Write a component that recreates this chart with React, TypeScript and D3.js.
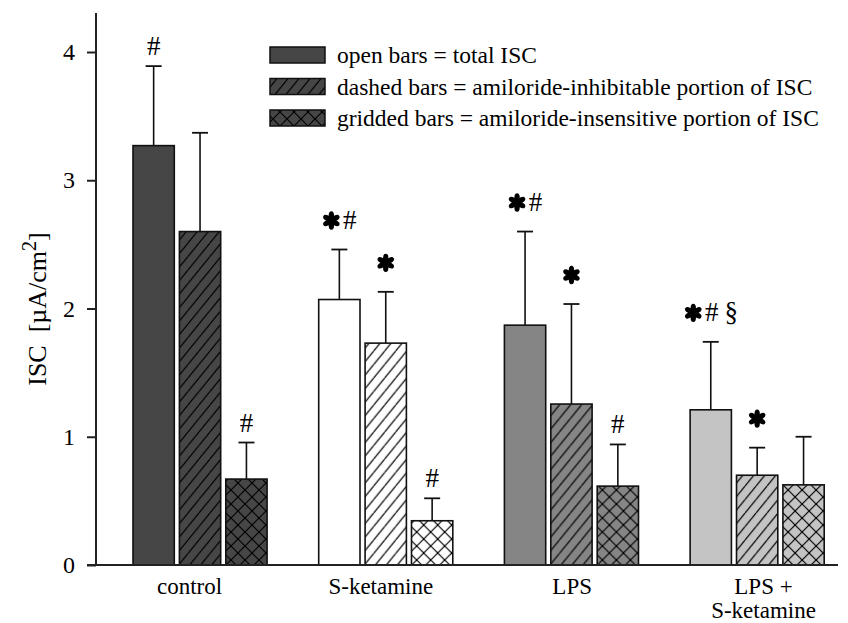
import React, { useEffect, useRef } from "react";
import * as d3 from "d3";

const groups = ["control", "S-ketamine", "LPS", "LPS + S-ketamine"];
const groupLabels = [["control"], ["S-ketamine"], ["LPS"], ["LPS +", "S-ketamine"]];
const seriesKeys = ["total", "inhib", "insens"];
const totalISC = [3.27, 2.07, 1.87, 1.21];
const totalErr = [0.62, 0.39, 0.73, 0.53];
const inhibISC = [2.6, 1.73, 1.255, 0.7];
const inhibErr = [0.77, 0.4, 0.78, 0.215];
const insensISC = [0.67, 0.345, 0.615, 0.625];
const insensErr = [0.285, 0.175, 0.325, 0.375];
const totalMarks = ["#", "*#", "*#", "*#§"];
const inhibMarks = ["", "*", "*", "*"];
const insensMarks = ["#", "#", "#", ""];
const groupColors = ["#464646", "#ffffff", "#858585", "#c4c4c4"];
const yTicks = [0, 1, 2, 3, 4];
const legendLabels = [
  "open bars = total ISC",
  "dashed bars = amiloride-inhibitable portion of ISC",
  "gridded bars = amiloride-insensitive portion of ISC",
];

const FONT = "'Liberation Serif', 'Times New Roman', serif";

function Asterisk({ cx, cy }: { cx: number; cy: number }) {
  const petals = [0, 60, 120, 180, 240, 300];
  return (
    <g transform={`translate(${cx},${cy})`}>
      {petals.map((a) => (
        <ellipse key={a} cx={0} cy={-4.7} rx={2.7} ry={4.5} transform={`rotate(${a})`} fill="#000" />
      ))}
      <circle r={1.7} fill="#000" />
    </g>
  );
}

function Marks({ text, cx, errTop }: { text: string; cx: number; errTop: number }) {
  if (!text) return null;
  const chars = Array.from(text);
  const hasAst = chars.includes("*");
  const base = errTop - (hasAst ? 21 : 11);
  const widths: Record<string, number> = { "*": 18, "#": 13, "§": 12 };
  const gapAfter: Record<string, number> = { "*": 3, "#": 7, "§": 0 };
  let total = 0;
  chars.forEach((c, i) => {
    total += widths[c];
    if (i < chars.length - 1) total += gapAfter[c];
  });
  let x = cx - total / 2;
  const items: any[] = [];
  chars.forEach((c, i) => {
    const w = widths[c];
    if (c === "*") {
      items.push(<Asterisk key={i} cx={x + w / 2} cy={base - 8} />);
    } else {
      items.push(
        <text key={i} x={x + w / 2} y={base} textAnchor="middle" fontFamily={FONT} fontSize={27} fill="#000">
          {c}
        </text>
      );
    }
    x += w + gapAfter[c];
  });
  return <g>{items}</g>;
}

export default function App() {
  const yAxisRef = useRef<SVGGElement>(null);

  const y = d3.scaleLinear().domain([0, 4]).range([565, 52]);
  const x0 = d3.scaleBand().domain(groups).range([133, 824.2]).paddingInner(0.278).paddingOuter(0);
  const x1 = d3.scaleBand().domain(seriesKeys).range([0, x0.bandwidth()]).paddingInner(0.11);
  const xLabel = d3.scalePoint().domain(groups).range([189.5, 763.5]);

  useEffect(() => {
    if (!yAxisRef.current) return;
    const g = d3.select(yAxisRef.current);
    g.selectAll("*").remove();
    g.call(d3.axisLeft(y).tickValues(yTicks).tickSize(9).tickPadding(12).tickFormat(d3.format("d")));
    g.select(".domain").remove();
    g.selectAll(".tick line").attr("stroke", "#222").attr("stroke-width", 2);
    g.selectAll(".tick text")
      .attr("font-family", FONT)
      .attr("font-size", 24)
      .attr("fill", "#000");
  }, []);

  const series = [
    { key: "total", vals: totalISC, errs: totalErr, marks: totalMarks, pat: "solid" },
    { key: "inhib", vals: inhibISC, errs: inhibErr, marks: inhibMarks, pat: "hatch" },
    { key: "insens", vals: insensISC, errs: insensErr, marks: insensMarks, pat: "cross" },
  ];

  const fillFor = (pat: string, gi: number) =>
    pat === "solid" ? groupColors[gi] : `url(#${pat}-${gi})`;

  const legendColorIdx = 0;
  const legendY = [55, 86.5, 118];

  return (
    <svg width={848} height={623} style={{ position: "absolute", left: 0, top: 0, background: "#fff" }}>
      <defs>
        {groupColors.map((c, i) => (
          <React.Fragment key={i}>
            <pattern id={`hatch-${i}`} patternUnits="userSpaceOnUse" width={11} height={13.5}>
              <rect width={11} height={13.5} fill={c} />
              <line x1={0} y1={13.5} x2={11} y2={0} stroke="#000" strokeWidth={1.2} />
              <line x1={-11} y1={13.5} x2={0} y2={0} stroke="#000" strokeWidth={1.2} />
              <line x1={11} y1={13.5} x2={22} y2={0} stroke="#000" strokeWidth={1.2} />
            </pattern>
            <pattern id={`cross-${i}`} patternUnits="userSpaceOnUse" width={14} height={14}>
              <rect width={14} height={14} fill={c} />
              <line x1={0} y1={0} x2={14} y2={14} stroke="#000" strokeWidth={1.2} />
              <line x1={0} y1={14} x2={14} y2={0} stroke="#000" strokeWidth={1.2} />
            </pattern>
          </React.Fragment>
        ))}
      </defs>

      {/* bars */}
      {groups.map((g, gi) => (
        <g key={g} transform={`translate(${x0(g)},0)`}>
          {series.map((s) => {
            const bx = x1(s.key)!;
            const bw = x1.bandwidth();
            const v = s.vals[gi];
            const top = y(v);
            const errTop = y(v + s.errs[gi]);
            const cx = bx + bw / 2;
            return (
              <g key={s.key}>
                <rect
                  x={bx}
                  y={top}
                  width={bw}
                  height={y(0) - top}
                  fill={fillFor(s.pat, gi)}
                  stroke="#111"
                  strokeWidth={1.6}
                />
                <line x1={cx} x2={cx} y1={top} y2={errTop} stroke="#111" strokeWidth={1.6} />
                <line x1={cx - 8} x2={cx + 8} y1={errTop} y2={errTop} stroke="#111" strokeWidth={1.8} />
                <Marks text={s.marks[gi]} cx={cx} errTop={errTop} />
              </g>
            );
          })}
        </g>
      ))}

      {/* axes */}
      <g ref={yAxisRef} transform="translate(96,0)" />
      <line x1={96} x2={96} y1={13} y2={566} stroke="#222" strokeWidth={2} />
      <line x1={87} x2={838} y1={565} y2={565} stroke="#222" strokeWidth={2} />

      {/* x labels */}
      {groups.map((g, gi) => (
        <text key={g} x={xLabel(g)} y={594} textAnchor="middle" fontFamily={FONT} fontSize={23} fill="#000">
          {groupLabels[gi].map((l, li) => (
            <tspan key={li} x={xLabel(g)} dy={li === 0 ? 0 : 23.5}>
              {l}
            </tspan>
          ))}
        </text>
      ))}

      {/* y label */}
      <text
        transform="translate(46,309) rotate(-90)"
        textAnchor="middle"
        fontFamily={FONT}
        fontSize={26}
        fill="#000"
      >
        {"ISC\u00a0 [µA/cm"}
        <tspan dy={-10} fontSize={20}>2</tspan>
        <tspan dy={10}>]</tspan>
      </text>

      {/* legend */}
      {series.map((s, i) => (
        <g key={s.key}>
          <rect
            x={270}
            y={legendY[i] - 8}
            width={55}
            height={16}
            fill={fillFor(s.pat, legendColorIdx)}
            stroke="#111"
            strokeWidth={1.5}
          />
          <text x={337} y={legendY[i] + 8} fontFamily={FONT} fontSize={23.5} fill="#000">
            {legendLabels[i]}
          </text>
        </g>
      ))}
    </svg>
  );
}
